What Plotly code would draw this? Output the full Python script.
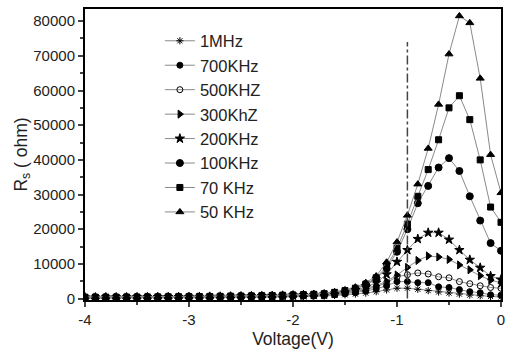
import plotly.graph_objects as go

voltage = [-4.0, -3.9, -3.8, -3.7, -3.6, -3.5, -3.4, -3.3, -3.2, -3.1,
           -3.0, -2.9, -2.8, -2.7, -2.6, -2.5, -2.4, -2.3, -2.2, -2.1,
           -2.0, -1.9, -1.8, -1.7, -1.6, -1.5, -1.4, -1.3, -1.2, -1.1,
           -1.0, -0.9, -0.8, -0.7, -0.6, -0.5, -0.4, -0.3, -0.2, -0.1, 0.0]

rs_1mhz = [150, 160, 170, 180, 190, 200, 210, 220, 230, 240,
           250, 260, 280, 300, 320, 340, 360, 390, 420, 460,
           500, 550, 620, 700, 900, 1100, 1300, 1600, 2000, 2500,
           3000, 3000, 2700, 2300, 1900, 1600, 1300, 1000, 800, 600, 500]
rs_700k = [200, 210, 220, 230, 240, 250, 260, 270, 290, 300,
           320, 340, 360, 380, 410, 440, 470, 510, 560, 620,
           680, 750, 820, 900, 1100, 1400, 1700, 2200, 2800, 3700,
           4900, 4900, 4600, 4600, 3400, 3200, 2600, 2000, 1700, 1100, 1000]
rs_500k = [250, 260, 270, 280, 290, 300, 310, 330, 340, 360,
           380, 400, 420, 440, 470, 500, 530, 570, 620, 680,
           740, 810, 890, 1000, 1300, 1600, 2000, 2600, 3400, 4600,
           6300, 6900, 7400, 7100, 6300, 6000, 4900, 4300, 3700, 3200, 3000]
rs_300k = [300, 310, 320, 330, 340, 350, 360, 380, 400, 420,
           440, 460, 480, 510, 540, 570, 610, 650, 700, 760,
           820, 900, 990, 1100, 1400, 1700, 2200, 2900, 3800, 5000,
           6800, 9000, 11000, 12300, 12000, 11300, 9700, 8300, 6600, 5300, 4600]
rs_200k = [330, 340, 350, 360, 370, 390, 400, 420, 440, 460,
           480, 500, 530, 560, 590, 630, 670, 720, 780, 840,
           910, 990, 1080, 1200, 1500, 1900, 2500, 3300, 4600, 7000,
           10600, 14000, 17200, 19000, 19000, 17000, 14000, 11200, 8900, 6500, 5500]
rs_100k = [360, 370, 380, 390, 410, 420, 440, 460, 480, 500,
           520, 550, 580, 610, 650, 690, 740, 790, 850, 920,
           1000, 1080, 1180, 1300, 1700, 2100, 2800, 3900, 5600, 8700,
           13500, 20000, 27500, 32500, 37800, 40500, 36800, 29500, 22500, 16000, 13800]
rs_70k = [400, 410, 420, 430, 450, 460, 480, 500, 520, 540,
          560, 590, 620, 650, 690, 730, 780, 830, 890, 960,
          1040, 1130, 1250, 1400, 1800, 2300, 3000, 4200, 6000, 9200,
          14500, 21500, 29500, 37200, 45800, 55000, 58500, 51600, 40000, 26400, 22000]
rs_50k = [450, 460, 470, 480, 490, 500, 520, 530, 550, 560,
          580, 600, 620, 650, 680, 710, 750, 800, 860, 930,
          1000, 1100, 1250, 1500, 1900, 2500, 3300, 4600, 6500, 10500,
          16300, 24000, 33000, 43300, 56000, 70500, 81500, 79500, 63500, 41500, 30500]

series_names = ["1MHz", "700KHz", "500KHZ", "300KhZ", "200KHz", "100KHz", "70 KHz", "50 KHz"]
series_values = [rs_1mhz, rs_700k, rs_500k, rs_300k, rs_200k, rs_100k, rs_70k, rs_50k]
series_symbols = ["asterisk-open", "circle", "circle-open", "triangle-right",
                  "star", "circle", "square", "triangle-up"]
series_sizes = [6, 6, 6, 7, 7, 7, 6, 7]

x_tick_vals = [-4, -3, -2, -1, 0]
x_tick_text = ["-4", "-3", "-2", "-1", "0"]
y_tick_vals = [0, 10000, 20000, 30000, 40000, 50000, 60000, 70000, 80000]
y_tick_text = ["0", "10000", "20000", "30000", "40000", "50000", "60000", "70000", "80000"]

guide_x = [-0.9, -0.9]
guide_y = [0, 74000]

FONT = "Liberation Sans, Arial, sans-serif"

fig = go.Figure()
for i, (name, vals, sym, sz) in enumerate(zip(series_names, series_values, series_symbols, series_sizes)):
    fig.add_trace(go.Scatter(
        x=voltage, y=vals, name=name, mode="lines+markers",
        legendgroup=f"g{i}",
        line=dict(color="#8a8a8a", width=1),
        marker=dict(symbol=sym, size=sz, color="black",
                    line=dict(color="black", width=1)),
    ))

fig.add_trace(go.Scatter(
    x=guide_x, y=guide_y, mode="lines", showlegend=False,
    line=dict(color="#444444", width=1.5, dash="dashdot"),
))

fig.update_layout(
    width=512, height=356,
    margin=dict(l=85, r=7, t=8, b=56),
    paper_bgcolor="white", plot_bgcolor="white",
    font=dict(family=FONT, size=15, color="#222"),
    legend=dict(x=0.18, y=0.95, xanchor="left", yanchor="top",
                bgcolor="rgba(0,0,0,0)", font=dict(family=FONT, size=16.5, color="#222"),
                tracegroupgap=0, itemwidth=30),
    xaxis=dict(range=[-4, 0], tickvals=x_tick_vals, ticktext=x_tick_text,
               ticks="outside", ticklen=5, tickwidth=1.5,
               minor=dict(tickvals=[-3.5, -2.5, -1.5, -0.5], ticks="outside", ticklen=3),
               showline=True, linecolor="black", linewidth=2, mirror=True,
               showgrid=False, zeroline=False,
               title=dict(text="Voltage(V)", standoff=6,
                          font=dict(family=FONT, size=17.5, color="#222"))),
    yaxis=dict(range=[-400, 83500], tickvals=y_tick_vals, ticktext=y_tick_text,
               ticks="outside", ticklen=5, tickwidth=1.5,
               minor=dict(dtick=5000, ticks="outside", ticklen=3),
               showline=True, linecolor="black", linewidth=2, mirror=True,
               showgrid=False, zeroline=False,
               title=dict(text="R<sub>s</sub> ( ohm)", standoff=0,
                          font=dict(family=FONT, size=17.5, color="#222"))),
)

fig.write_html("out.html")
